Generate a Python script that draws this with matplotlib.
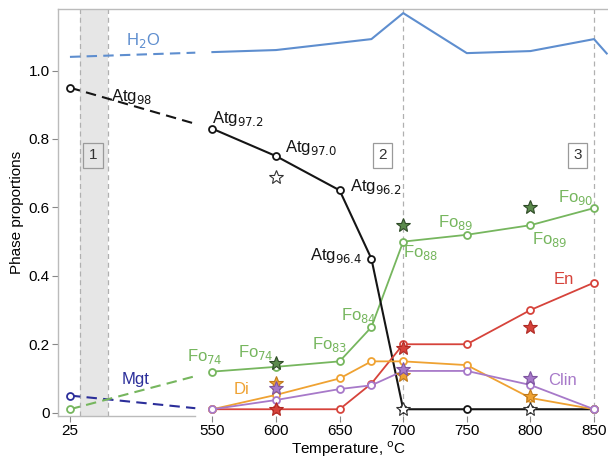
import numpy as np
import matplotlib
matplotlib.use("Agg")
import matplotlib.pyplot as plt

plt.rcParams['font.family'] = ['Liberation Sans', 'DejaVu Sans']

# temperatures (25 C sits on a compressed stretch left of the break)
temps = [550, 600, 650, 675, 700, 750, 800, 850]
t_room = 25

# phase proportions
atg = [0.83, 0.75, 0.65, 0.45, 0.01, 0.01, 0.01, 0.01]
fo = [0.12, 0.134, 0.15, 0.25, 0.50, 0.52, 0.548, 0.598]
en = [0.01, 0.01, 0.01, 0.085, 0.20, 0.20, 0.30, 0.38]
di = [0.01, 0.052, 0.10, 0.15, 0.15, 0.139, 0.043, 0.01]
clin = [0.01, 0.037, 0.069, 0.08, 0.122, 0.122, 0.081, 0.01]
h2o_t = [550, 600, 675, 700, 750, 800, 850, 860]
h2o = [1.054, 1.06, 1.092, 1.168, 1.051, 1.057, 1.092, 1.05]

# room temperature values
atg_25, fo_25, mgt_25, h2o_25 = 0.95, 0.01, 0.05, 1.04
mgt_550 = 0.008

# star symbols (other estimates)
star_t = [600, 700, 800]
star_atg = [0.689, 0.01, 0.01]
star_fo = [0.145, 0.548, 0.60]
star_en = [0.01, 0.19, 0.25]
star_di = [0.086, 0.11, 0.049]
star_clin = [0.072, 0.127, 0.101]

c_atg = '#151515'
c_fo = '#76b65e'
c_en = '#d6433b'
c_di = '#efa232'
c_clin = '#a779c9'
c_mgt = '#2b2e9a'
c_h2o = '#5e8ecf'
c_grid = '#b0b0b0'

K = 112.0 / 525.0
X0 = 438.0


def fwd(t):
    t = np.asarray(t, dtype=float)
    return np.where(t < 550, X0 + (t - 25) * K, t)


def inv(p):
    p = np.asarray(p, dtype=float)
    return np.where(p < 550, 25 + (p - X0) / K, p)


GAP_END = 487  # where the dashed connectors stop before 550


def connector(ax, y0, y1, color):
    yend = y0 + (y1 - y0) * (GAP_END - t_room) / (550 - t_room)
    ax.plot([t_room, GAP_END], [y0, yend], ls=(0, (5, 3)), color=color,
            lw=1.5, zorder=3)


fig = plt.figure(figsize=(6.08, 4.59), dpi=100)
ax = fig.add_axes([0.0954, 0.0937, 0.9046, 0.8867])
ax.set_xscale('function', functions=(fwd, inv))
ax.set_xlim(-19, 861)
ax.set_ylim(-0.0097, 1.18)

# shaded stage 1 and guide lines
ax.axvspan(62, 165, color='#e6e6e6', lw=0, zorder=0)
for xv in [62, 165, 700, 850]:
    ax.axvline(xv, color=c_grid, ls=(0, (4, 3)), lw=0.9, zorder=1)

mk = dict(marker='o', ms=5, mfc='white', mew=1.3)

connector(ax, h2o_25, h2o[0], c_h2o)
ax.plot(h2o_t, h2o, color=c_h2o, lw=1.5, zorder=3)

connector(ax, mgt_25, mgt_550, c_mgt)
ax.plot([t_room], [mgt_25], color=c_mgt, **mk, zorder=5)

connector(ax, fo_25, fo[0], c_fo)
ax.plot([t_room], [fo_25], color=c_fo, **mk, zorder=5)
ax.plot(temps, fo, color=c_fo, lw=1.3, zorder=4, **mk)

connector(ax, atg_25, atg[0], c_atg)
ax.plot([t_room], [atg_25], color=c_atg, **mk, zorder=5)
ax.plot(temps, atg, color=c_atg, lw=1.5, zorder=4, **mk)

ax.plot(temps, en, color=c_en, lw=1.3, zorder=4, **mk)
ax.plot(temps, di, color=c_di, lw=1.3, zorder=4, **mk)
ax.plot(temps, clin, color=c_clin, lw=1.3, zorder=4, **mk)

st = dict(marker='*', ms=10, ls='none', mew=0.8, zorder=6)
ax.plot(star_t, star_atg, mfc='white', mec='#333333', **st)
ax.plot(star_t, star_fo, mfc='#5b8a4c', mec='#2e4a26', **st)
ax.plot(star_t, star_en, mfc=c_en, mec='#b02a24', **st)
ax.plot(star_t, star_di, mfc=c_di, mec='#c07a1a', **st)
ax.plot(star_t, star_clin, mfc=c_clin, mec='#7e55a0', **st)

fs = 12
ax.text(176, 0.925, 'Atg$_{98}$', fontsize=fs, color=c_atg, va='center')
ax.text(548, 0.86, 'Atg$_{97.2}$', fontsize=fs, color=c_atg, va='center')
ax.text(607, 0.775, 'Atg$_{97.0}$', fontsize=fs, color=c_atg, va='center')
ax.text(658, 0.66, 'Atg$_{96.2}$', fontsize=fs, color=c_atg, va='center')
ax.text(668, 0.46, 'Atg$_{96.4}$', fontsize=fs, color=c_atg, va='center',
        ha='right')
ax.text(700, 0.467, 'Fo$_{88}$', fontsize=fs, color=c_fo, va='center')
ax.text(727, 0.557, 'Fo$_{89}$', fontsize=fs, color=c_fo, va='center')
ax.text(801, 0.505, 'Fo$_{89}$', fontsize=fs, color=c_fo, va='center')
ax.text(822, 0.63, 'Fo$_{90}$', fontsize=fs, color=c_fo, va='center')
ax.text(651, 0.285, 'Fo$_{84}$', fontsize=fs, color=c_fo, va='center')
ax.text(628, 0.198, 'Fo$_{83}$', fontsize=fs, color=c_fo, va='center')
ax.text(570, 0.175, 'Fo$_{74}$', fontsize=fs, color=c_fo, va='center')
ax.text(457, 0.163, 'Fo$_{74}$', fontsize=fs, color=c_fo, va='center')
ax.text(818, 0.39, 'En', fontsize=fs, color=c_en, va='center')
ax.text(814, 0.093, 'Clin', fontsize=fs, color=c_clin, va='center')
ax.text(567, 0.069, 'Di', fontsize=fs, color=c_di, va='center')
ax.text(217, 0.098, 'Mgt', fontsize=fs, color=c_mgt, va='center')
ax.text(232, 1.087, 'H$_2$O', fontsize=fs, color=c_h2o, va='center')

box = dict(boxstyle='square,pad=0.35', fc='white', ec='#9a9a9a', lw=0.9)
for xt, lab in zip([110, 684, 837], ['1', '2', '3']):
    b = dict(box)
    if lab == '1':
        b['fc'] = '#e6e6e6'
    ax.text(xt, 0.752, lab, fontsize=11, ha='center', va='center', bbox=b,
            color='#333333')

xticks = [t_room] + [550, 600, 650, 700, 750, 800, 850]
ax.set_xticks(xticks)
ax.set_xticklabels([str(t) for t in xticks])
ax.set_yticks([0, 0.2, 0.4, 0.6, 0.8, 1.0])
ax.set_yticklabels(['0', '0.2', '0.4', '0.6', '0.8', '1.0'])
ax.tick_params(labelsize=11, color='#888888', length=4, width=0.8, pad=2)
ax.set_xlabel('Temperature, $^{\\rm o}$C', fontsize=11)
ax.xaxis.set_label_coords(0.528, -0.058)
ax.set_ylabel('Phase proportions', fontsize=11, labelpad=3)

for s in ['top', 'left', 'bottom']:
    ax.spines[s].set_color('#bbbbbb')
    ax.spines[s].set_linewidth(1.0)
ax.spines['right'].set_visible(False)
ax.spines['bottom'].set_bounds(-19, GAP_END)

fig.savefig('out.png', dpi=100)
